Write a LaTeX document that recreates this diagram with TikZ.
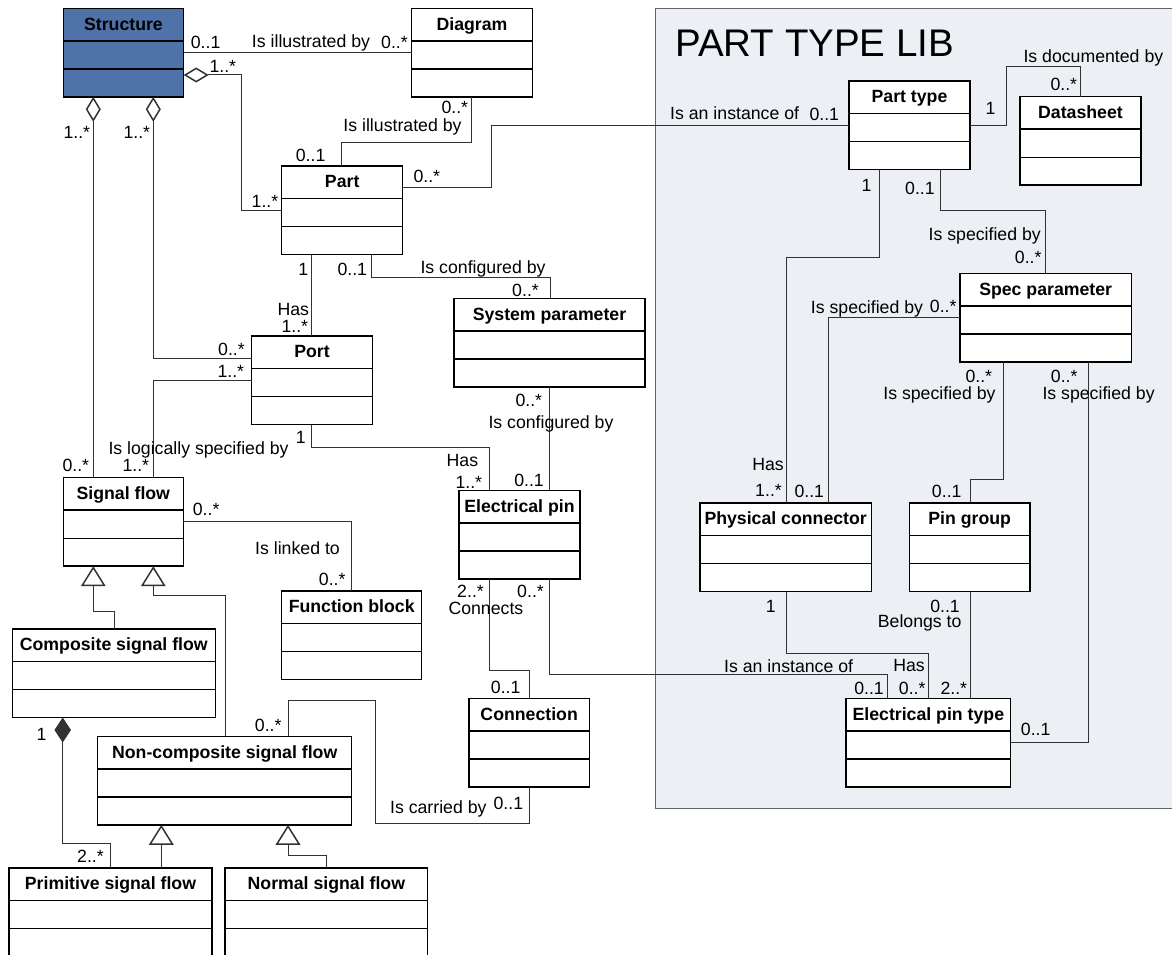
\documentclass[tikz,border=0pt]{standalone}
\usepackage{fontspec}
\setmainfont{Liberation Sans}
\usetikzlibrary{arrows.meta,calc}
\definecolor{structblue}{RGB}{79,115,168}
\definecolor{panelfill}{RGB}{236,239,244}
\definecolor{panelborder}{RGB}{100,100,100}
\definecolor{linecol}{RGB}{50,50,50}
\tikzset{
 classbox/.style={draw=black, line width=1.5pt, inner sep=0pt, outer sep=0pt, minimum height=88.5pt, anchor=north west},
 divider/.style={draw=black, line width=1.5pt},
 titletext/.style={font=\bfseries\fontsize{17.7}{20}\selectfont, inner sep=0pt, text height=12.7pt, text depth=0pt},
 lbl/.style={font=\fontsize{17.7}{20}\selectfont, inner sep=0pt, text height=12.7pt, text depth=0pt},
 conn/.style={draw=linecol, line width=1pt},
 aggr/.style={arrows={Diamond[open,length=25pt,width=15pt,line width=1.5pt]-}},
 compo/.style={arrows={Diamond[length=25pt,width=16.5pt]-}},
 gen/.style={arrows={-Triangle[open,length=20pt,width=24.6pt,line width=1.5pt]}},
}
\newcommand\umlclass[6][white]{%
 \node[classbox, fill=#1, minimum width=#5pt] (#2) at (#3,#4) {};
 \node[titletext] (#2-t) at ($(#2.north)+(0,15.5)$) {#6};
 \draw[divider] ($(#2.north west)+(0,32.5)$) -- ($(#2.north east)+(0,32.5)$);
 \draw[divider] ($(#2.north west)+(0,60.7)$) -- ($(#2.north east)+(0,60.7)$);
}
\begin{document}
\begin{tikzpicture}[x=1pt,y=-1pt]
\useasboundingbox (0,0) rectangle (1172,955);
% panel
\fill[panelfill] (655.7,8.3) rectangle (1180,808.3);
\draw[panelborder, line width=1.5pt] (1180,8.3) -- (655.7,8.3) -- (655.7,808.3) -- (1180,808.3);
\node[font=\fontsize{38.5}{40}\selectfont, inner sep=0pt, text height=27.6pt, text depth=0pt, anchor=west] (libtitle) at (675,43) {PART TYPE LIB};
% classes
\umlclass[structblue]{structure}{63.3}{8.3}{120.4}{Structure}
\umlclass{diagram}{411.7}{8.3}{120.6}{Diagram}
\umlclass{part}{281.7}{166}{121}{Part}
\umlclass{parttype}{849}{81}{121}{Part type}
\umlclass{datasheet}{1020}{96.7}{121}{Datasheet}
\umlclass{specparam}{960}{273.3}{171.3}{Spec parameter}
\umlclass{sysparam}{454}{298.3}{191}{System parameter}
\umlclass{port}{251.7}{336}{120.6}{Port}
\umlclass{signalflow}{63.3}{477.7}{120}{Signal flow}
\umlclass{functionblock}{281.7}{591}{140}{Function block}
\umlclass{elecpin}{459}{490.3}{121}{Electrical pin}
\umlclass{physconn}{700}{503}{171.3}{Physical connector}
\umlclass{pingroup}{909.3}{503}{120.7}{Pin group}
\umlclass{composite}{12.3}{629}{203}{Composite signal flow}
\umlclass{noncomposite}{97.7}{736.3}{254}{Non-composite signal flow}
\umlclass{primitive}{9}{868}{203}{Primitive signal flow}
\umlclass{normal}{225}{868}{202.7}{Normal signal flow}
\umlclass{connection}{469}{698.3}{120.3}{Connection}
\umlclass{elecpintype}{846}{698.3}{164.7}{Electrical pin type}
% connectors
\draw[conn] (structure.east |- 0,52.7) -- (diagram.west |- 0,52.7);
\draw[conn,aggr] (structure.east |- 0,75) -| (241.3,210) -- (part.west |- 0,210);
\draw[conn,aggr] (structure.south -| 93.3,0) -- (signalflow.north -| 93.3,0);
\draw[conn,aggr] (structure.south -| 153.3,0) |- (port.west |- 0,358.3);
\draw[conn] (diagram.south -| 471.7,0) |- (341.7,142.7) -- (part.north -| 341.7,0);
\draw[conn] (part.east |- 0,187.7) -| (491,125.7) -- (parttype.west |- 0,125.7);
\draw[conn] (parttype.east |- 0,125.3) -| (1006.7,66.7) -| (datasheet.north -| 1080.7,0);
\draw[conn] (parttype.south -| 879.3,0) |- (786,257.3) -- (physconn.north -| 786,0);
\draw[conn] (parttype.south -| 940,0) |- (1045.7,210.7) -- (specparam.north -| 1045.7,0);
\draw[conn] (specparam.west |- 0,317.3) -| (physconn.north -| 828.7,0);
\draw[conn] (specparam.south -| 1003,0) |- (970,479.3) -- (pingroup.north -| 970,0);
\draw[conn] (specparam.south -| 1088.3,0) |- (elecpintype.east |- 0,742.3);
\draw[conn] (pingroup.south -| 970,0) -- (elecpintype.north -| 970,0);
\draw[conn] (physconn.south -| 786,0) |- (928.3,653.3) -- (elecpintype.north -| 928.3,0);
\draw[conn] (elecpin.south -| 549.7,0) |- (887.3,674.3) -- (elecpintype.north -| 887.3,0);
\draw[conn] (elecpin.south -| 489.3,0) |- (529,670) -- (connection.north -| 529,0);
\draw[conn] (connection.south -| 529,0) |- (375.7,823.3) |- (288.3,700.7) -- (noncomposite.north -| 288.3,0);
\draw[conn] (part.south -| 311.7,0) -- (port.north -| 311.7,0);
\draw[conn] (part.south -| 371.7,0) |- (550,277.7) -- (sysparam.north -| 550,0);
\draw[conn] (sysparam.south -| 549.7,0) -- (elecpin.north -| 549.7,0);
\draw[conn] (port.south -| 311.7,0) |- (489.3,447.3) -- (elecpin.north -| 489.3,0);
\draw[conn] (port.west |- 0,380) -| (signalflow.north -| 153.3,0);
\draw[conn] (signalflow.east |- 0,521.7) -| (functionblock.north -| 351,0);
\draw[conn,gen] (composite.north -| 114,0) |- (93.3,611.7) -- (signalflow.south -| 93.3,0);
\draw[conn,gen] (noncomposite.north -| 225,0) |- (153.3,595.7) -- (signalflow.south -| 153.3,0);
\draw[conn,compo] (composite.south -| 62.7,0) |- (110,843.3) -- (primitive.north -| 110,0);
\draw[conn,gen] (primitive.north -| 161.3,0) -- (noncomposite.south -| 161.3,0);
\draw[conn,gen] (normal.north -| 326,0) |- (288,855.7) -- (noncomposite.south -| 288,0);
% labels
\node[lbl,anchor=west] (a1) at (190.7,41.7) {0..1};
\node[lbl] (a2) at (311,41) {Is illustrated by};
\node[lbl,anchor=east] (a3) at (408,42.5) {0..*};
\node[lbl,anchor=west] (b1) at (209.3,66.3) {1..*};
\node[lbl,anchor=east] (b2) at (278.5,201) {1..*};
\node[lbl,anchor=west] (c1) at (63.3,132) {1..*};
\node[lbl,anchor=west] (c2) at (62.3,465) {0..*};
\node[lbl,anchor=west] (d1) at (123.3,132) {1..*};
\node[lbl,anchor=east] (d2) at (245,349) {0..*};
\node[lbl,anchor=east] (e1) at (468.3,107.5) {0..*};
\node[lbl,anchor=east] (e2) at (461.7,124.7) {Is illustrated by};
\node[lbl,anchor=west] (e3) at (295.7,155.3) {0..1};
\node[lbl,anchor=west] (f1) at (413.3,176) {0..*};
\node[lbl,anchor=east] (f2) at (799.3,113.5) {Is an instance of};
\node[lbl,anchor=west] (f3) at (809.3,114.5) {0..1};
\node[lbl,anchor=west] (g1) at (985.5,108.5) {1};
\node[lbl,anchor=west] (g2) at (1023.3,56) {Is documented by};
\node[lbl,anchor=east] (g3) at (1077.3,84) {0..*};
\node[lbl,anchor=east] (h1) at (871.7,185) {1};
\node[lbl,anchor=east] (h2) at (784,464.5) {Has};
\node[lbl,anchor=east] (h3) at (782,490) {1..*};
\node[lbl,anchor=west] (i1) at (905,188) {0..1};
\node[lbl,anchor=east] (i2) at (1041,234) {Is specified by};
\node[lbl,anchor=east] (i3) at (1041.7,257) {0..*};
\node[lbl,anchor=west] (j1) at (810.7,306.7) {Is specified by};
\node[lbl,anchor=east] (j2) at (956.7,306.5) {0..*};
\node[lbl,anchor=west] (j3) at (794.3,491) {0..1};
\node[lbl,anchor=east] (k1) at (992.3,376) {0..*};
\node[lbl,anchor=east] (k2) at (995.7,392.7) {Is specified by};
\node[lbl,anchor=east] (k3) at (961.7,491) {0..1};
\node[lbl,anchor=west] (m1) at (1050.7,376) {0..*};
\node[lbl,anchor=west] (m2) at (1042.3,392.7) {Is specified by};
\node[lbl,anchor=west] (m3) at (1020.7,729.5) {0..1};
\node[lbl,anchor=east] (n1) at (960,606) {0..1};
\node[lbl,anchor=east] (n2) at (961.7,621.5) {Belongs to};
\node[lbl,anchor=east] (n3) at (967.3,688) {2..*};
\node[lbl,anchor=east] (o1) at (776,606) {1};
\node[lbl,anchor=east] (o2) at (925,665) {Has};
\node[lbl,anchor=east] (o3) at (925.7,688) {0..*};
\node[lbl,anchor=east] (p1) at (544,591.5) {0..*};
\node[lbl,anchor=east] (p2) at (853.3,666) {Is an instance of};
\node[lbl,anchor=east] (p3) at (884,688) {0..1};
\node[lbl,anchor=east] (q1) at (484,591.5) {2..*};
\node[lbl,anchor=west] (q2) at (448.3,607.7) {Connects};
\node[lbl,anchor=east] (q3) at (520.7,687) {0..1};
\node[lbl,anchor=east] (r1) at (523.3,803) {0..1};
\node[lbl,anchor=east] (r2) at (486.7,806.7) {Is carried by};
\node[lbl,anchor=east] (r3) at (281.7,724.7) {0..*};
\node[lbl,anchor=east] (s1) at (308.3,269) {1};
\node[lbl,anchor=east] (s2) at (309.3,309.3) {Has};
\node[lbl,anchor=east] (s3) at (308.3,326) {1..*};
\node[lbl,anchor=west] (t1) at (337.3,269) {0..1};
\node[lbl,anchor=east] (t2) at (545.7,266.7) {Is configured by};
\node[lbl,anchor=east] (t3) at (539,290) {0..*};
\node[lbl,anchor=east] (u1) at (542.3,400.5) {0..*};
\node[lbl,anchor=west] (u2) at (488.3,421.7) {Is configured by};
\node[lbl,anchor=east] (u3) at (544,480.3) {0..1};
\node[lbl,anchor=east] (v1) at (306,437) {1};
\node[lbl,anchor=east] (v2) at (478.3,460.3) {Has};
\node[lbl,anchor=east] (v3) at (482.3,482) {1..*};
\node[lbl,anchor=east] (w1) at (244.3,371) {1..*};
\node[lbl,anchor=west] (w2) at (108.3,448.3) {Is logically specified by};
\node[lbl,anchor=east] (w3) at (149.3,465.5) {1..*};
\node[lbl,anchor=west] (x1) at (192.7,509.5) {0..*};
\node[lbl,anchor=east] (x2) at (340,548.3) {Is linked to};
\node[lbl,anchor=east] (x3) at (345.7,579.5) {0..*};
\node[lbl,anchor=east] (y1) at (46.7,734) {1};
\node[lbl,anchor=east] (y2) at (104,856) {2..*};
\end{tikzpicture}
\end{document}
